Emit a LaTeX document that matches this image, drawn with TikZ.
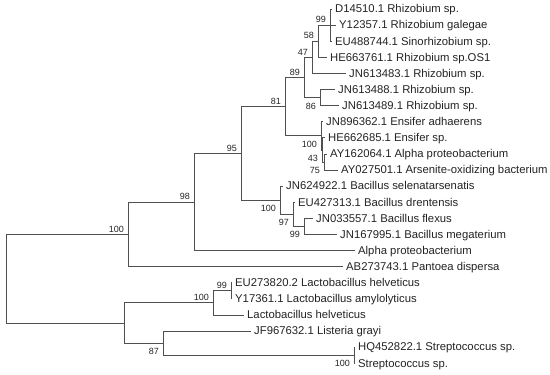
\documentclass[tikz,border=0pt]{standalone}
\usepackage{fontspec}
\setmainfont{Liberation Sans}
\usepackage{xcolor}
\definecolor{treegray}{RGB}{80,80,80}
\definecolor{textgray}{RGB}{35,35,35}

\begin{document}
\begin{tikzpicture}[
      x=1pt, y=-1pt,
      branch/.style={draw=treegray, line width=0.8pt},
      leaf/.style={anchor=west, inner sep=3pt, text=textgray, font=\fontsize{11.3}{13}\selectfont, text height=7.7pt, text depth=0pt},
      bsup/.style={anchor=south east, inner sep=1pt, xshift=-3pt, yshift=1pt, text=textgray, font=\fontsize{9}{10}\selectfont},
      bsdown/.style={anchor=north east, inner sep=1pt, xshift=-3pt, yshift=-4pt, text=textgray, font=\fontsize{9}{10}\selectfont}
    ]
      \useasboundingbox (0,0) rectangle (550,375);
      % internal nodes
      \coordinate (nRoot) at (6,278.6);
      \coordinate (nTop100) at (128,234.3);
      \coordinate (nLow) at (124,322.95);
      \coordinate (n98) at (194,201.95);
      \coordinate (n95) at (241,153.4);
      \coordinate (n81) at (285,106.6);
      \coordinate (nRhizo89) at (304,77.43);
      \coordinate (nRhizo47) at (312,57.3);
      \coordinate (nRhizo58) at (318,41.2);
      \coordinate (nRhizo99) at (330,25.1);
      \coordinate (nRhizo86) at (320,97.55);
      \coordinate (nEns100) at (321,135.8);
      \coordinate (nEns43) at (322,149.9);
      \coordinate (nEns75) at (324,161.95);
      \coordinate (nBac100) at (280,200.2);
      \coordinate (nBac97) at (293,214.3);
      \coordinate (nBac99) at (304,226.35);
      \coordinate (nLac100) at (213,302.8);
      \coordinate (nLac99) at (231,290.75);
      \coordinate (nList87) at (163,343.1);
      \coordinate (nStr100) at (354,355.15);
      % leaves
      \node[leaf] (lD14510) at (332,9) {D14510.1 Rhizobium sp.};
      \node[leaf] (lY12357) at (336,25.1) {Y12357.1 Rhizobium galegae};
      \node[leaf] (lEU488744) at (332,41.2) {EU488744.1 Sinorhizobium sp.};
      \node[leaf] (lHE663761) at (327,57.3) {HE663761.1 Rhizobium sp.OS1};
      \node[leaf] (lJN613483) at (346,73.4) {JN613483.1 Rhizobium sp.};
      \node[leaf] (lJN613488) at (335,89.5) {JN613488.1 Rhizobium sp.};
      \node[leaf] (lJN613489) at (339,105.6) {JN613489.1 Rhizobium sp.};
      \node[leaf] (lJN896362) at (323,121.7) {JN896362.1 Ensifer adhaerens};
      \node[leaf] (lHE662685) at (325,137.8) {HE662685.1 Ensifer sp.};
      \node[leaf] (lAY162064) at (327,153.9) {AY162064.1 Alpha proteobacterium};
      \node[leaf] (lAY027501) at (338,170) {AY027501.1 Arsenite-oxidizing bacterium};
      \node[leaf] (lJN624922) at (283,186.1) {JN624922.1 Bacillus selenatarsenatis};
      \node[leaf] (lEU427313) at (295,202.2) {EU427313.1 Bacillus drentensis};
      \node[leaf] (lJN033557) at (313,218.3) {JN033557.1 Bacillus flexus};
      \node[leaf] (lJN167995) at (337,234.4) {JN167995.1 Bacillus megaterium};
      \node[leaf] (lAlpha) at (355,250.5) {Alpha proteobacterium};
      \node[leaf] (lAB273743) at (343,266.6) {AB273743.1 Pantoea dispersa};
      \node[leaf] (lEU273820) at (232,282.7) {EU273820.2 Lactobacillus helveticus};
      \node[leaf] (lY17361) at (232,298.8) {Y17361.1 Lactobacillus amylolyticus};
      \node[leaf] (lLacto) at (244,314.9) {Lactobacillus helveticus};
      \node[leaf] (lJF967632) at (251,331) {JF967632.1 Listeria grayi};
      \node[leaf] (lHQ452822) at (355,347.1) {HQ452822.1 Streptococcus sp.};
      \node[leaf] (lStrep) at (355,363.2) {Streptococcus sp.};
      % branches
      \draw[branch] (nRoot) |- (nTop100) (nRoot) |- (nLow);
      \draw[branch] (nTop100) |- (n98) (nTop100) |- (lAB273743.west);
      \draw[branch] (n98) |- (n95) (n98) |- (lAlpha.west);
      \draw[branch] (n95) |- (n81) (n95) |- (nBac100);
      \draw[branch] (n81) |- (nRhizo89) (n81) |- (nEns100);
      \draw[branch] (nRhizo89) |- (nRhizo47) (nRhizo89) |- (nRhizo86);
      \draw[branch] (nRhizo47) |- (nRhizo58) (nRhizo47) |- (lJN613483.west);
      \draw[branch] (nRhizo58) |- (nRhizo99) (nRhizo58) |- (lHE663761.west);
      \draw[branch] (nRhizo99) |- (lD14510.west) (nRhizo99) |- (lY12357.west) (nRhizo99) |- (lEU488744.west);
      \draw[branch] (nRhizo86) |- (lJN613488.west) (nRhizo86) |- (lJN613489.west);
      \draw[branch] (nEns100) |- (lJN896362.west) (nEns100) |- (nEns43);
      \draw[branch] (nEns43) |- (lHE662685.west) (nEns43) |- (nEns75);
      \draw[branch] (nEns75) |- (lAY162064.west) (nEns75) |- (lAY027501.west);
      \draw[branch] (nBac100) |- (lJN624922.west) (nBac100) |- (nBac97);
      \draw[branch] (nBac97) |- (lEU427313.west) (nBac97) |- (nBac99);
      \draw[branch] (nBac99) |- (lJN033557.west) (nBac99) |- (lJN167995.west);
      \draw[branch] (nLow) |- (nLac100) (nLow) |- (nList87);
      \draw[branch] (nLac100) |- (nLac99) (nLac100) |- (lLacto.west);
      \draw[branch] (nLac99) |- (lEU273820.west) (nLac99) |- (lY17361.west);
      \draw[branch] (nList87) |- (lJF967632.west) (nList87) |- (nStr100);
      \draw[branch] (nStr100) |- (lHQ452822.west) (nStr100) |- (lStrep.west);
      % bootstrap values
      \node[bsup] (bTop100) at (nTop100) {100};
      \node[bsup] (b98) at (n98) {98};
      \node[bsup] (b95) at (n95) {95};
      \node[bsup] (b81) at (n81) {81};
      \node[bsup] (bRhizo89) at (nRhizo89) {89};
      \node[bsup] (bRhizo47) at (nRhizo47) {47};
      \node[bsup] (bRhizo58) at (nRhizo58) {58};
      \node[bsup] (bRhizo99) at (nRhizo99) {99};
      \node[bsdown] (bRhizo86) at (nRhizo86) {86};
      \node[bsdown] (bEns100) at (nEns100) {100};
      \node[bsdown] (bEns43) at (nEns43) {43};
      \node[bsdown] (bEns75) at (nEns75) {75};
      \node[bsdown] (bBac100) at (nBac100) {100};
      \node[bsdown] (bBac97) at (nBac97) {97};
      \node[bsdown] (bBac99) at (nBac99) {99};
      \node[bsup] (bLac100) at (nLac100) {100};
      \node[bsup] (bLac99) at (nLac99) {99};
      \node[bsdown] (bList87) at (nList87) {87};
      \node[bsdown] (bStr100) at (nStr100) {100};
    \end{tikzpicture}
\end{document}
